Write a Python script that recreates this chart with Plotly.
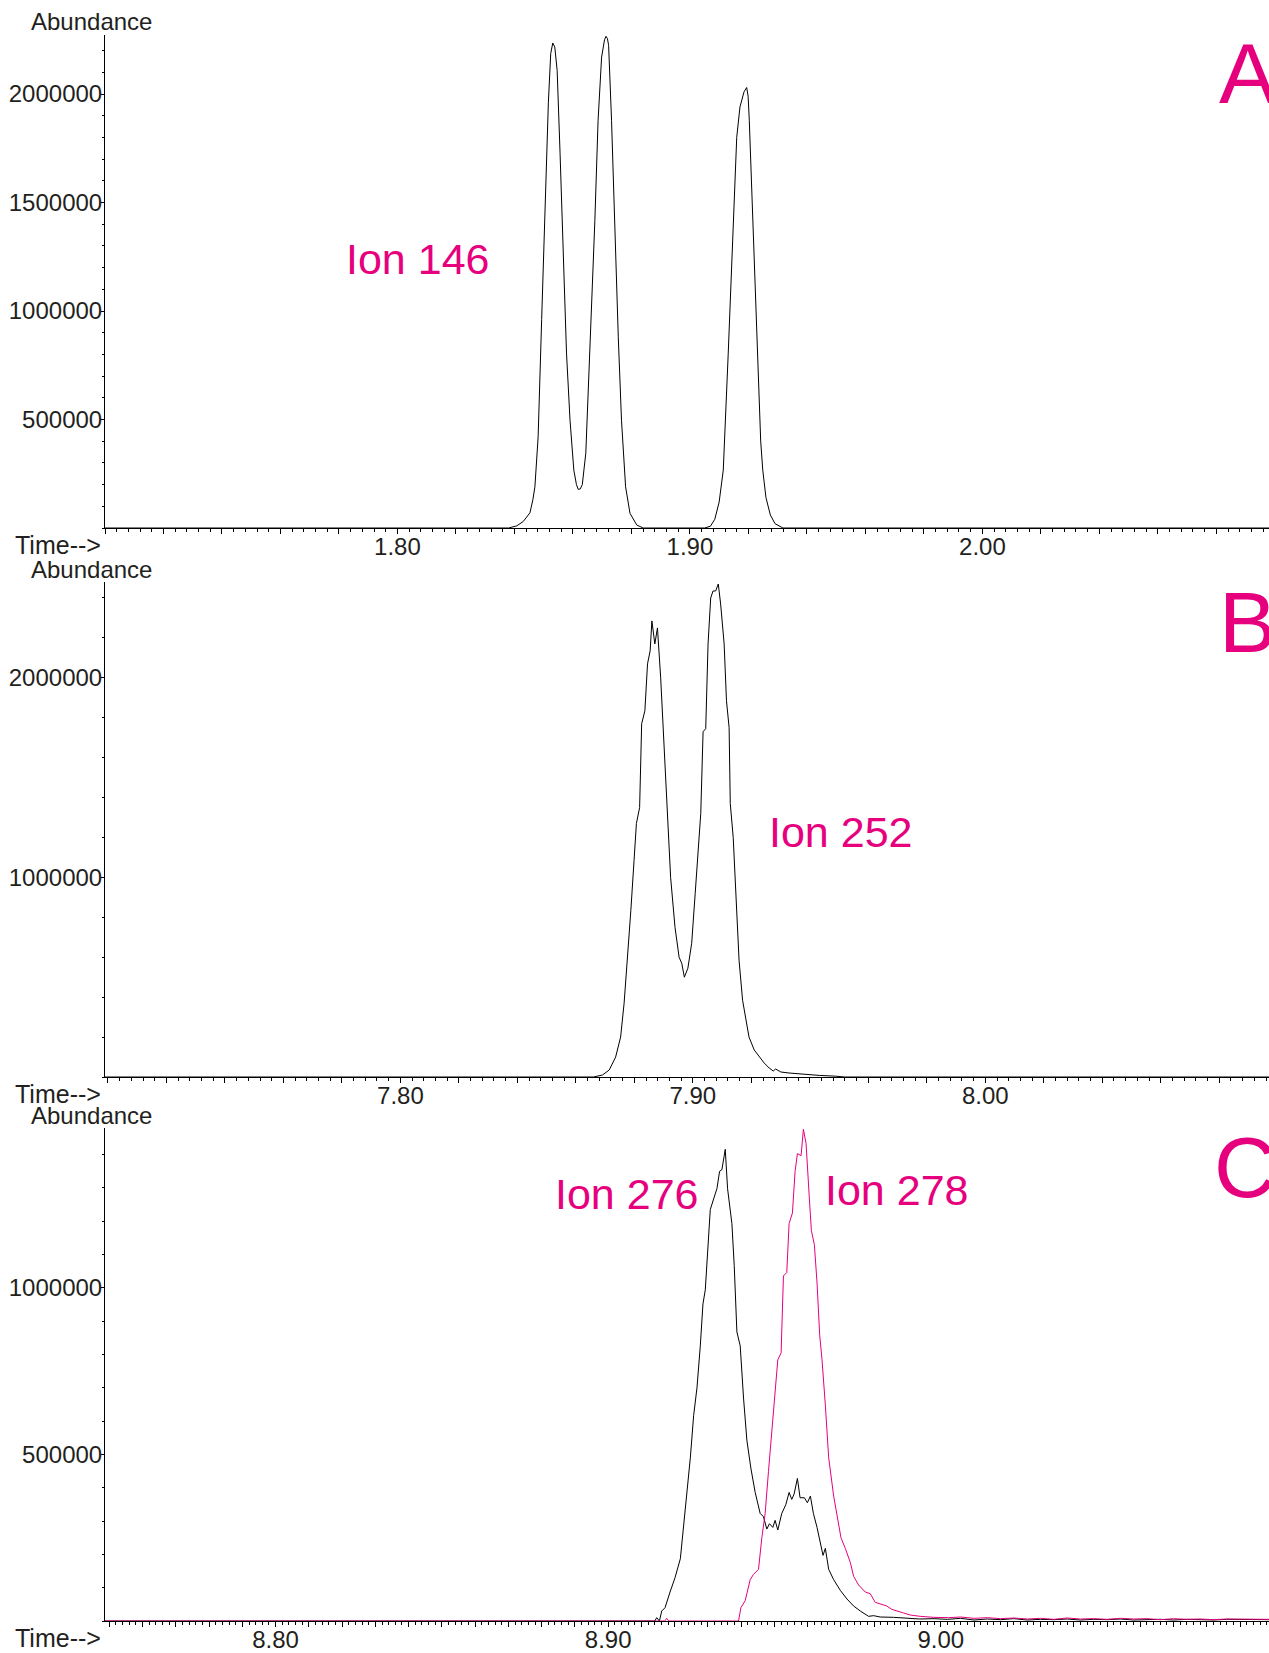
import numpy as np
import plotly.graph_objects as go

W, H = 1269, 1653
PINK = '#E6007E'
INK = '#231F20'
FONT = 'Liberation Sans, Arial, Helvetica, sans-serif'

# ---------------- Panel A : Ion 146 ----------------
a_time = [1.7000, 1.8380, 1.8408, 1.8430, 1.8453, 1.8463, 1.8470, 1.8481, 1.8493, 1.8504,
          1.8516, 1.8524, 1.8531, 1.8538, 1.8546, 1.8556, 1.8567, 1.8578, 1.8590, 1.8603,
          1.8612, 1.8618, 1.8625, 1.8632, 1.8644, 1.8658, 1.8675, 1.8686, 1.8698, 1.8708,
          1.8713, 1.8718, 1.8722, 1.8732, 1.8744, 1.8755, 1.8766, 1.8780, 1.8795, 1.8818,
          1.8840, 1.9050, 1.9070, 1.9085, 1.9100, 1.9114, 1.9131, 1.9148, 1.9160, 1.9171,
          1.9185, 1.9194, 1.9199, 1.9203, 1.9211, 1.9222, 1.9233, 1.9242, 1.9249, 1.9260,
          1.9275, 1.9291, 1.9318, 2.0980]
a_ion146 = [0, 0, 10000, 30000, 70000, 130000, 190000, 420000, 960000, 1495000,
            1960000, 2186000, 2235000, 2216000, 2109000, 1726000, 1266000, 806000, 497000, 267000,
            200000, 178000, 180000, 200000, 345000, 806000, 1418000, 1879000, 2170000, 2250000,
            2266000, 2255000, 2224000, 1879000, 1341000, 881000, 497000, 190000, 68000, 14000,
            0, 0, 8000, 40000, 120000, 267000, 806000, 1418000, 1800000, 1940000,
            2010000, 2030000, 1990000, 1879000, 1572000, 1111000, 650000, 400000, 267000, 140000,
            60000, 20000, 0, 0]
a_xrange = [1.700, 2.098]
a_yrange = [0, 2272000]
a_xlabels = [1.80, 1.90, 2.00]
a_ylabels = [500000, 1000000, 1500000, 2000000]

# ---------------- Panel B : Ion 252 ----------------
b_time = [7.6990, 7.8660, 7.8691, 7.8714, 7.8736, 7.8753, 7.8765, 7.8776, 7.8788, 7.8799,
          7.8807, 7.8818, 7.8825, 7.8836, 7.8845, 7.8854, 7.8860, 7.8870, 7.8879, 7.8890,
          7.8902, 7.8913, 7.8924, 7.8939, 7.8953, 7.8962, 7.8971, 7.8983, 7.8996, 7.9008,
          7.9019, 7.9027, 7.9035, 7.9044, 7.9052, 7.9061, 7.9069, 7.9078, 7.9087, 7.9095,
          7.9107, 7.9115, 7.9124, 7.9128, 7.9138, 7.9147, 7.9158, 7.9170, 7.9179, 7.9192,
          7.9210, 7.9227, 7.9244, 7.9261, 7.9275, 7.9283, 7.9301, 7.9329, 7.9363, 7.9398,
          7.9432, 7.9489, 7.9520, 8.0970]
b_ion252 = [0, 0, 10000, 35000, 100000, 200000, 370000, 585000, 835000, 1085000,
            1270000, 1350000, 1770000, 1835000, 2070000, 2135000, 2285000, 2170000, 2250000, 2000000,
            1670000, 1335000, 1000000, 750000, 600000, 570000, 500000, 545000, 670000, 920000,
            1185000, 1320000, 1730000, 1745000, 2170000, 2400000, 2435000, 2435000, 2470000, 2370000,
            2170000, 1885000, 1750000, 1370000, 1200000, 920000, 585000, 385000, 300000, 200000,
            135000, 100000, 70000, 45000, 30000, 40000, 25000, 20000, 15000, 10000,
            8000, 4000, 0, 0]
b_xrange = [7.699, 8.097]
b_yrange = [0, 2480000]
b_xlabels = [7.80, 7.90, 8.00]
b_ylabels = [1000000, 2000000]

# ---------------- Panel C : Ion 276 / Ion 278 ----------------
c_time_276 = [8.7487, 8.9140, 8.9146, 8.9154, 8.9161, 8.9171, 8.9186, 8.9201, 8.9217, 8.9226,
              8.9237, 8.9247, 8.9257, 8.9267, 8.9277, 8.9285, 8.9292, 8.9299, 8.9307, 8.9317,
              8.9327, 8.9335, 8.9342, 8.9352, 8.9359, 8.9372, 8.9379, 8.9387, 8.9397, 8.9407,
              8.9417, 8.9429, 8.9442, 8.9457, 8.9467, 8.9477, 8.9485, 8.9495, 8.9502, 8.9510,
              8.9522, 8.9534, 8.9544, 8.9552, 8.9559, 8.9569, 8.9577, 8.9590, 8.9599, 8.9608,
              8.9617, 8.9628, 8.9638, 8.9646, 8.9653, 8.9663, 8.9678, 8.9698, 8.9718, 8.9738,
              8.9758, 8.9783, 8.9798, 8.9818, 8.9858, 8.9898, 8.9937, 8.9980, 9.0020, 9.0060,
              9.0100, 9.0140, 9.0180, 9.0220, 9.0260, 9.0300, 9.0340, 9.0380, 9.0420, 9.0460,
              9.0500, 9.0540, 9.0580, 9.0620, 9.0660, 9.0700, 9.0740, 9.0780, 9.0820, 9.0860,
              9.0900, 9.0940, 9.0987]
c_ion276 = [0, 0, 10000, 0, 30000, 40000, 87000, 130000, 187000, 280000,
            386000, 490000, 617000, 700000, 826000, 952000, 994000, 1120000, 1235000, 1267000,
            1298000, 1350000, 1355000, 1416000, 1298000, 1193000, 1067000, 868000, 826000, 669000,
            543000, 459000, 386000, 323000, 313000, 276000, 292000, 281000, 302000, 273000,
            323000, 349000, 386000, 365000, 381000, 428000, 370000, 370000, 355000, 375000,
            323000, 281000, 239000, 197000, 218000, 155000, 124000, 92000, 66000, 45000,
            30000, 14000, 16000, 12000, 11000, 8000, 6000, 7000, 5000, 8000,
            3000, 6000, 4000, 7000, 3000, 5000, 4000, 6000, 3000, 5000,
            4000, 6000, 3000, 4000, 5000, 3000, 5000, 4000, 3000, 5000,
            4000, 3000, 4000]
c_time_278 = [8.7487, 8.9170, 8.9176, 8.9182, 8.9392, 8.9399, 8.9412, 8.9427, 8.9437, 8.9452,
              8.9462, 8.9472, 8.9482, 8.9492, 8.9502, 8.9510, 8.9520, 8.9527, 8.9537, 8.9544,
              8.9554, 8.9562, 8.9569, 8.9580, 8.9587, 8.9595, 8.9605, 8.9611, 8.9620, 8.9628,
              8.9636, 8.9643, 8.9653, 8.9663, 8.9678, 8.9688, 8.9700, 8.9713, 8.9728, 8.9738,
              8.9753, 8.9773, 8.9788, 8.9803, 8.9818, 8.9838, 8.9853, 8.9873, 8.9888, 8.9908,
              8.9938, 8.9978, 9.0023, 9.0060, 9.0100, 9.0140, 9.0180, 9.0220, 9.0260, 9.0300,
              9.0340, 9.0380, 9.0420, 9.0460, 9.0500, 9.0540, 9.0580, 9.0620, 9.0660, 9.0700,
              9.0740, 9.0780, 9.0820, 9.0860, 9.0900, 9.0940, 9.0987]
c_ion278 = [0, 0, 8000, 0, 0, 40000, 61000, 124000, 140000, 155000,
            250000, 323000, 449000, 564000, 700000, 784000, 805000, 1036000, 1046000, 1193000,
            1225000, 1350000, 1403000, 1397000, 1476000, 1434000, 1267000, 1172000, 1130000, 1015000,
            858000, 784000, 648000, 490000, 375000, 323000, 250000, 218000, 176000, 134000,
            108000, 87000, 82000, 56000, 51000, 45000, 35000, 30000, 24000, 18000,
            14000, 11000, 10000, 12000, 8000, 10000, 7000, 9000, 6000, 8000,
            5000, 9000, 6000, 7000, 5000, 8000, 6000, 7000, 4000, 7000,
            5000, 6000, 4000, 6000, 5000, 4000, 5000]
c_xrange = [8.7487, 9.0987]
c_yrange = [0, 1480000]
c_xlabels = [8.80, 8.90, 9.00]
c_ylabels = [500000, 1000000]

# ---------------- layout helpers ----------------
def px_x(p):
    return p / W

def px_y(p):
    return 1 - p / H

X0 = 105
panels = [
    dict(top=35, bottom=528, xr=a_xrange, yr=a_yrange, xl=a_xlabels, yl=a_ylabels,
         dx=0.02, mdx=0.004, mdy=100000),
    dict(top=582, bottom=1077, xr=b_xrange, yr=b_yrange, xl=b_xlabels, yl=b_ylabels,
         dx=0.02, mdx=0.004, mdy=200000),
    dict(top=1128, bottom=1621, xr=c_xrange, yr=c_yrange, xl=c_xlabels, yl=c_ylabels,
         dx=0.01, mdx=0.002, mdy=100000),
]

fig = go.Figure()
fig.add_trace(go.Scatter(x=a_time, y=a_ion146, mode='lines', line=dict(color='black', width=1),
                         xaxis='x', yaxis='y', showlegend=False))
fig.add_trace(go.Scatter(x=b_time, y=b_ion252, mode='lines', line=dict(color='black', width=1),
                         xaxis='x2', yaxis='y2', showlegend=False))
fig.add_trace(go.Scatter(x=c_time_276, y=c_ion276, mode='lines', line=dict(color='black', width=1),
                         xaxis='x3', yaxis='y3', showlegend=False))
fig.add_trace(go.Scatter(x=c_time_278, y=c_ion278, mode='lines', line=dict(color=PINK, width=1),
                         xaxis='x3', yaxis='y3', showlegend=False))

layout = dict(width=W, height=H, margin=dict(l=0, r=0, t=0, b=0, autoexpand=False),
              paper_bgcolor='white', plot_bgcolor='white',
              font=dict(family=FONT, color=INK, size=24), showlegend=False)

annotations = []
for i, p in enumerate(panels):
    sfx = '' if i == 0 else str(i + 1)
    start = np.ceil(p['xr'][0] / p['dx'] - 1e-6) * p['dx']
    tv = np.round(np.arange(start, p['xr'][1] + 1e-9, p['dx']), 4)
    tt = [f"{v:.2f}" if any(abs(v - l) < 1e-6 for l in p['xl']) else '' for v in tv]
    layout['xaxis' + sfx] = dict(
        domain=[px_x(X0), 1], anchor='y' + sfx, range=p['xr'], automargin=False,
        showline=True, linecolor='black', linewidth=1, mirror=False,
        showgrid=False, zeroline=False, ticks='outside', ticklen=5, tickwidth=1,
        tickcolor='black', tickvals=list(tv), ticktext=tt, ticklabelstandoff=-8,
        tickfont=dict(size=24, color=INK, family=FONT),
        minor=dict(dtick=p['mdx'], tick0=start, ticks='outside', ticklen=3,
                   tickwidth=1, tickcolor='black', showgrid=False),
        fixedrange=True)
    layout['yaxis' + sfx] = dict(
        domain=[px_y(p['bottom']), px_y(p['top'])], anchor='x' + sfx, range=p['yr'],
        automargin=False,
        showline=True, linecolor='black', linewidth=1,
        showgrid=False, zeroline=False, ticks='outside', ticklen=3, tickwidth=1,
        tickcolor='black', tickvals=p['yl'], tickformat='d',
        tickfont=dict(size=24, color=INK, family=FONT), ticklabelstandoff=-6,
        minor=dict(dtick=p['mdy'], tick0=0, ticks='outside', ticklen=2,
                   tickwidth=1, tickcolor='black', showgrid=False),
        fixedrange=True)
    annotations.append(dict(text='Abundance', x=px_x(91), y=px_y(p['top'] - 13),
                            xref='paper', yref='paper', xanchor='center', yanchor='middle',
                            showarrow=False, font=dict(size=24, color=INK, family=FONT)))
    annotations.append(dict(text='Time-->', x=px_x(103), y=px_y(p['bottom'] + 17),
                            xref='paper', yref='paper', xanchor='right', yanchor='middle',
                            showarrow=False, font=dict(size=25, color=INK, family=FONT)))

ion_labels = [('Ion 146', 418, 259), ('Ion 252', 840, 832), ('Ion 276', 626, 1194),
              ('Ion 278', 896, 1190)]
for txt, x, y in ion_labels:
    annotations.append(dict(text=txt, x=px_x(x), y=px_y(y), xref='paper', yref='paper',
                            xanchor='center', yanchor='middle', showarrow=False,
                            font=dict(size=43, color=PINK, family=FONT)))

panel_letters = [('A', 1217, 73), ('B', 1217, 622), ('C', 1212, 1167)]
for txt, x, y in panel_letters:
    annotations.append(dict(text=txt, x=px_x(x), y=px_y(y), xref='paper', yref='paper',
                            xanchor='left', yanchor='middle', showarrow=False,
                            font=dict(size=86, color=PINK, family=FONT)))

layout['annotations'] = annotations
fig.update_layout(**layout)
fig.write_html('out.html')
